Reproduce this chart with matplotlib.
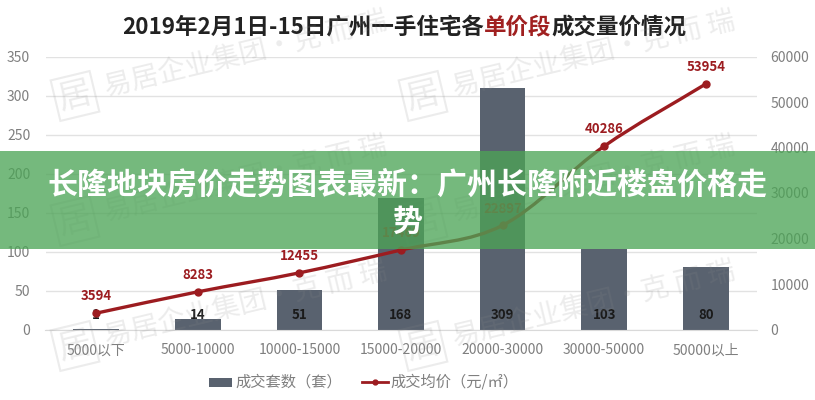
import matplotlib
matplotlib.use('Agg')
import matplotlib.pyplot as plt
from matplotlib.path import Path
from matplotlib.patches import PathPatch, Rectangle
from matplotlib.lines import Line2D
import numpy as np

plt.rcParams['font.family'] = ['Noto Sans CJK SC', 'DejaVu Sans']

categories = ['5000以下', '5000-10000', '10000-15000', '15000-20000', '20000-30000', '30000-50000', '50000以上']
units_sold = [1, 14, 51, 168, 309, 103, 80]
avg_price = [3594, 8283, 12455, 17469, 22897, 40286, 53954]
left_ticks = [0, 50, 100, 150, 200, 250, 300, 350]
right_ticks = [0, 10000, 20000, 30000, 40000, 50000, 60000]
title_parts = ['2019年2月1日-15日广州一手住宅各', '单价段', '成交量价情况']
banner_lines = ['长隆地块房价走势图表最新：广州长隆附近楼盘价格走', '势']
watermark = '易居企业集团·克 而 瑞'
watermark_logo = '居'
legend_labels = ['成交套数（套）', '成交均价（元/㎡）']

W, H = 815, 400
BAR = '#59626f'; RED = '#9c1c20'; GREY = '#7f7f7f'; GRID = '#e2e2e2'

fig = plt.figure(figsize=(W / 100, H / 100), dpi=100, facecolor='white')
ax = fig.add_axes([45.5 / W, 1 - 329.5 / H, 711 / W, 273 / H])
ax2 = ax.twinx()
x = np.arange(len(categories))
ax.set_xlim(-0.5, 6.5)
ax.set_ylim(0, 350)
ax2.set_ylim(0, 60000)

ax.set_axisbelow(True)
ax.grid(axis='y', color=GRID, lw=1)
ax.bar(x, units_sold, width=0.45, color=BAR, zorder=2)

for s in ['top', 'left', 'right']:
    ax.spines[s].set_visible(False)
    ax2.spines[s].set_visible(False)
ax.spines['bottom'].set_color('#d9d9d9')
ax2.spines['bottom'].set_visible(False)

ax.set_yticks(left_ticks)
ax2.set_yticks(right_ticks)
ax.set_xticks(x, categories)
ax.tick_params(axis='both', length=0, labelcolor=GREY, labelsize=10)
ax.tick_params(axis='x', pad=10)
ax.tick_params(axis='y', pad=11)
ax2.tick_params(axis='y', length=0, labelcolor=GREY, labelsize=10, pad=10)

# Smoothed price line through the data values
ys = np.array(avg_price, float)
verts = [(x[0], ys[0])]
codes = [Path.MOVETO]
for i in range(len(x) - 1):
    m0 = (ys[i + 1] - ys[max(i - 1, 0)]) / (2 if i > 0 else 1)
    m1 = (ys[min(i + 2, len(x) - 1)] - ys[i]) / (2 if i < len(x) - 2 else 1)
    verts += [(x[i] + 1 / 3, ys[i] + m0 / 3), (x[i + 1] - 1 / 3, ys[i + 1] - m1 / 3), (x[i + 1], ys[i + 1])]
    codes += [Path.CURVE4] * 3
ax2.add_patch(PathPatch(Path(verts, codes), fc='none', ec=RED, lw=2.4, zorder=4))
ax2.plot(x, ys, ls='none', marker='o', ms=5, color=RED, zorder=5)

for xi, v in zip(x, avg_price):
    ax2.annotate(str(v), (xi, v), xytext=(0, 7), textcoords='offset points', ha='center', va='bottom',
                 color=RED, fontsize=9.5, fontweight='bold', zorder=6)
for xi, v in zip(x, units_sold):
    ax.text(xi, 18, str(v), ha='center', va='center', color='#1a1a1a', fontsize=9.5, fontweight='bold', zorder=6)

# Title with a highlighted middle part
TS = 16.2
t1 = fig.text(122 / W, 1 - 27 / H, title_parts[0], fontsize=TS, fontweight='bold', color='#222222', va='center')
fig.canvas.draw()
r = fig.canvas.get_renderer()
bb = t1.get_window_extent(r)
t2 = fig.text(bb.x1 / W, 1 - 27 / H, title_parts[1], fontsize=TS, fontweight='bold', color='#a02020', va='center')
bb = t2.get_window_extent(r)
fig.text(bb.x1 / W, 1 - 27 / H, title_parts[2], fontsize=TS, fontweight='bold', color='#222222', va='center')

# Legend
fig.add_artist(Rectangle((209 / W, 1 - 386.5 / H), 23 / W, 9 / H, transform=fig.transFigure, fc=BAR, ec='none'))
fig.text(235 / W, 1 - 382 / H, legend_labels[0], fontsize=11, color=GREY, va='center')
fig.add_artist(Line2D([362 / W, 375 / W, 388 / W], [1 - 382 / H] * 3, transform=fig.transFigure, color=RED, lw=2,
                      marker='o', ms=3.5, markevery=[1]))
fig.text(390 / W, 1 - 382 / H, legend_labels[1], fontsize=11, color=GREY, va='center')

# Watermarks
WM = (0.54, 0.54, 0.54, 0.16)
for wx in (105, 453):
    for wy in (88, 213, 338):
        fig.text(wx / W, 1 - wy / H, watermark, fontsize=20, color=WM, rotation=13.5,
                 rotation_mode='anchor', ha='left', va='center', zorder=8)
        fig.text((wx - 30) / W, 1 - (wy + 8) / H, watermark_logo, fontsize=24, color=WM,
                 rotation=13.5, ha='center', va='center', zorder=8,
                 bbox=dict(fc='none', ec=WM, lw=1.5, boxstyle='square,pad=0.1'))

# Banner
fig.add_artist(Rectangle((0, 1 - 249 / H), 1, 98 / H, transform=fig.transFigure, fc='#4ca456', ec='none', alpha=0.77, zorder=9))
fig.text(0.5, 1 - 185 / H, banner_lines[0], fontsize=21.6, fontweight='bold', color='white', ha='center', va='center', zorder=10)
fig.text(0.5, 1 - 222 / H, banner_lines[1], fontsize=21.6, fontweight='bold', color='white', ha='center', va='center', zorder=10)

fig.savefig('out.png', dpi=100)
